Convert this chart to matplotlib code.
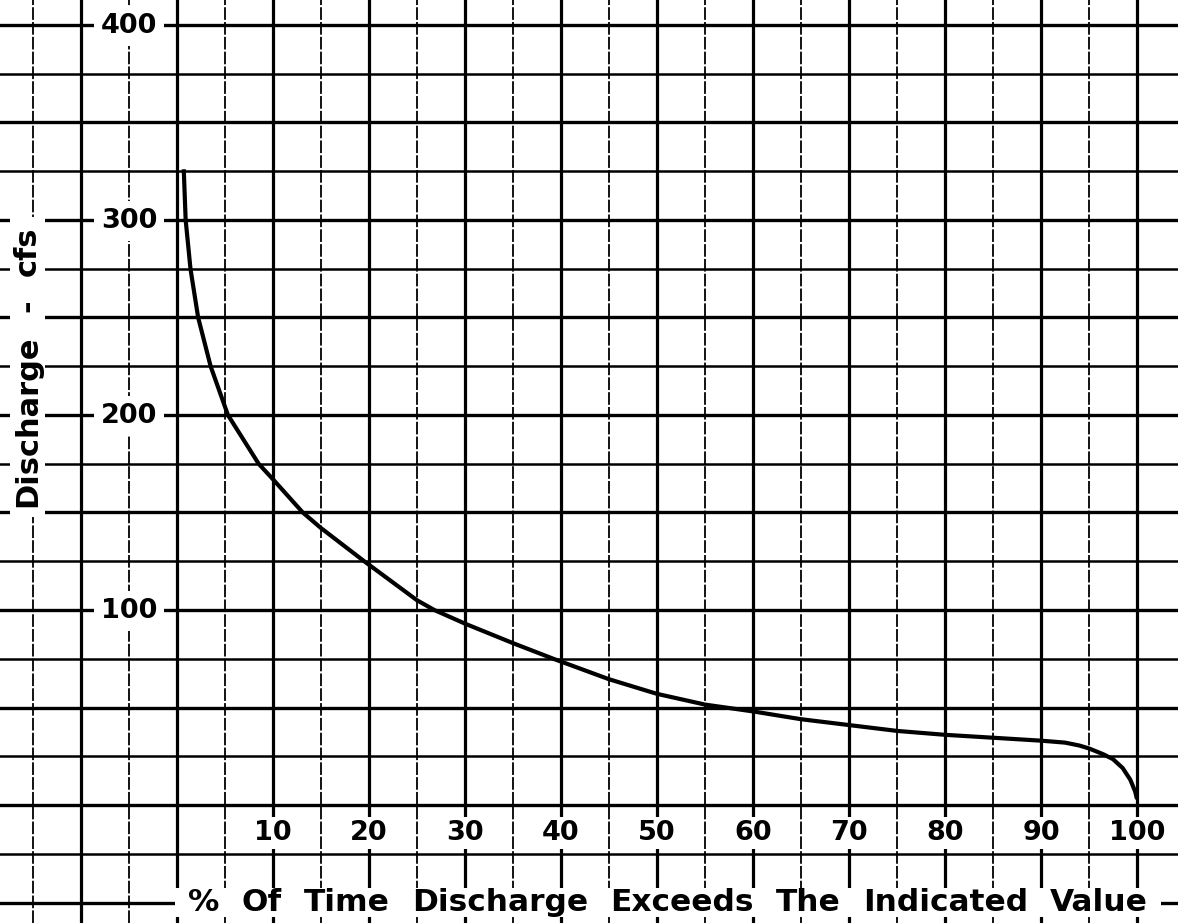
import numpy as np
import matplotlib.pyplot as plt
from matplotlib.patches import Rectangle
from matplotlib.transforms import Bbox

# flow-duration curve: percent of time exceeded vs discharge (cfs)
pct_time = [0.7, 0.9, 1.4, 2.2, 3.5, 5.3, 6.9, 8.5, 10.0, 13.1, 15.0, 19.5,
            25.0, 26.8, 30.0, 35.0, 39.2, 45.0, 50.0, 55.0, 60.0, 65.0, 70.0,
            75.0, 80.0, 85.0, 90.0, 92.5, 94.0, 95.0, 96.5, 97.5, 98.5, 99.3,
            99.8, 100.0]
discharge = [326, 300, 275, 250, 225, 200, 187.5, 175, 167, 150, 142, 125,
             105, 100, 93, 83, 75, 64.5, 57, 51.5, 48, 44, 41,
             38, 36, 34.5, 33, 32, 30.5, 29, 26, 23.5, 19, 13,
             7, 3]

x_ticks = [10, 20, 30, 40, 50, 60, 70, 80, 90, 100]
y_ticks = [100, 200, 300, 400]
x_label = ['%', 'Of', 'Time', 'Discharge', 'Exceeds', 'The', 'Indicated', 'Value']
y_label = ['Discharge', '-', 'cfs']

fig = plt.figure(figsize=(11.78, 9.23), dpi=100)
ax = fig.add_axes([0, 0, 1, 1])
ax.set_xlim(-18.44, 104.27)
ax.set_ylim(-60.5, 412.8)
ax.axis('off')

# graph paper: heavy lines every 10 %, broken light lines in between
for x in np.arange(-15, 105, 5):
    if x % 10 == 0:
        ax.axvline(x, color='black', lw=2.3, zorder=1)
    else:
        ax.axvline(x, color='black', lw=1.3, ls=(0, (7, 1.2)), zorder=1)
for y in np.arange(-50, 425, 25):
    ax.axhline(y, color='black', lw=2.4 if y % 50 == 0 else 1.8, zorder=1)

ax.plot(pct_time, discharge, color='black', lw=3, zorder=2,
        solid_joinstyle='round', solid_capstyle='butt')

font = dict(family='DejaVu Sans', fontweight='bold')
for x in x_ticks:
    ax.text(x, -17.9, str(x), ha='center', va='baseline', fontsize=19.5,
            bbox=dict(facecolor='white', edgecolor='none', pad=2), zorder=3, **font)
for y in y_ticks:
    ax.text(-5, y - 4, str(y), ha='center', va='baseline', fontsize=19.5,
            bbox=dict(facecolor='white', edgecolor='none', pad=5), zorder=3, **font)


def spread_words(words, start, end, at, vertical=False, pad=(0, 0), **kw):
    """Lay words out evenly between start and end, on a white strip."""
    if vertical:
        texts = [ax.text(at, 0, w, rotation=90, ha='center', va='bottom',
                         zorder=4, **kw) for w in words]
    else:
        texts = [ax.text(0, at, w, ha='left', va='baseline', zorder=4, **kw)
                 for w in words]
    renderer = fig.canvas.get_renderer()
    ext = [t.get_window_extent(renderer) for t in texts]
    sizes = [e.height if vertical else e.width for e in ext]
    to_disp = ax.transData.transform
    to_data = ax.transData.inverted().transform
    if vertical:
        a, b = to_disp((at, start))[1], to_disp((at, end))[1]
    else:
        a, b = to_disp((start, at))[0], to_disp((end, at))[0]
    gap = (b - a - sum(sizes)) / (len(words) - 1)
    pos = a
    for t, s in zip(texts, sizes):
        if vertical:
            t.set_y(to_data((0, pos))[1])
        else:
            t.set_x(to_data((pos, 0))[0])
        pos += s + gap
    bb = Bbox.union([t.get_window_extent(renderer) for t in texts])
    x0, y0 = to_data((bb.x0 - pad[0], bb.y0 - pad[1]))
    x1, y1 = to_data((bb.x1 + pad[0], bb.y1 + pad[1]))
    ax.add_patch(Rectangle((x0, y0), x1 - x0, y1 - y0, facecolor='white',
                           edgecolor='none', zorder=3))


spread_words(x_label, 1.15, 101.15, -54.4, pad=(13, 0), fontsize=22.5, **font)
spread_words(y_label, 152.8, 296.4, -15.57, vertical=True, pad=(3, 10),
             fontsize=22, **font)

fig.savefig('out.png', dpi=100, facecolor='white')
